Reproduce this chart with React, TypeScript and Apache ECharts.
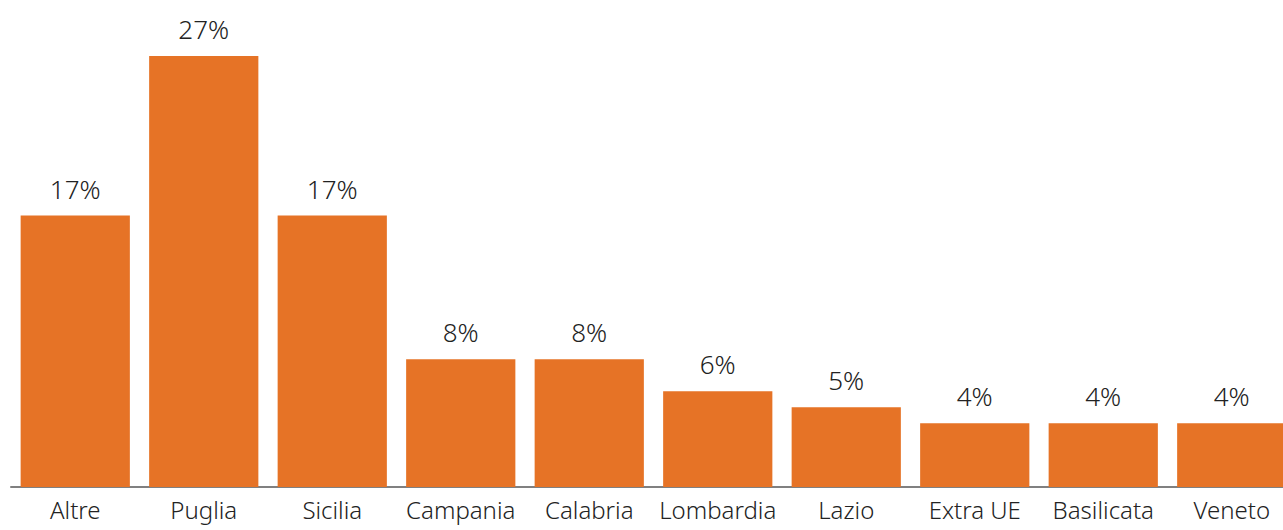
import React, { useEffect, useRef } from "react";
import * as echarts from "echarts";

const categories = ["Altre", "Puglia", "Sicilia", "Campania", "Calabria", "Lombardia", "Lazio", "Extra UE", "Basilicata", "Veneto"];
const values = [17, 27, 17, 8, 8, 6, 5, 4, 4, 4];

export default function App() {
  const ref = useRef<HTMLDivElement>(null);
  useEffect(() => {
    if (!ref.current) return;
    const chart = echarts.init(ref.current, undefined, { renderer: "svg" });
    chart.setOption({
      animation: false,
      grid: { left: 11, top: 8, bottom: 43, width: 1285 },
      xAxis: {
        type: "category",
        data: categories,
        axisLine: { show: true, lineStyle: { color: "#808080", width: 2 } },
        axisTick: { show: false },
        axisLabel: { color: "#222222", fontSize: 24, fontFamily: "Noto Sans", fontWeight: 300, margin: 10, interval: 0 },
      },
      yAxis: { type: "value", min: 0, max: 30, show: false, splitLine: { show: false } },
      series: [
        {
          type: "bar",
          data: values,
          barCategoryGap: "15%",
          itemStyle: { color: "#E67326" },
          label: {
            show: true,
            position: "top",
            distance: 14,
            formatter: "{c}%",
            color: "#222222",
            fontSize: 26,
            fontFamily: "Noto Sans",
            fontWeight: 300,
          },
        },
      ],
    });
    return () => chart.dispose();
  }, []);
  return (
    <div style={{ position: "absolute", left: 0, top: 0, width: 1283, height: 530, overflow: "hidden" }}>
      <div ref={ref} style={{ width: 1300, height: 530 }} />
    </div>
  );
}
